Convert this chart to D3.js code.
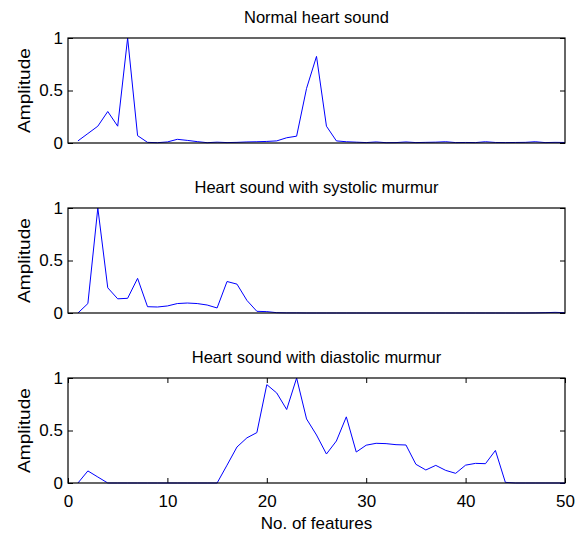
<!DOCTYPE html>
<html>
<head>
<meta charset="utf-8">
<script src="https://cdn.jsdelivr.net/npm/d3@7"></script>
<style>
  body { margin: 0; background: #fff; }
  svg { display: block; font-family: "Liberation Sans", Arial, Helvetica, sans-serif; }
</style>
</head>
<body>
<svg id="chart" width="585" height="536"></svg>
<script>
// feature index (x) for every series
const features = [1, 2, 3, 4, 5, 6, 7, 8, 9, 10, 11, 12, 13, 14, 15, 16, 17, 18, 19, 20,
  21, 22, 23, 24, 25, 26, 27, 28, 29, 30, 31, 32, 33, 34, 35, 36, 37, 38, 39, 40,
  41, 42, 43, 44, 45, 46, 47, 48, 49, 50];

const normalSound = [0.02, 0.09, 0.16, 0.30, 0.16, 1.0, 0.07, 0.006, 0.003, 0.01,
  0.035, 0.025, 0.013, 0.003, 0.008, 0.004, 0.006, 0.01, 0.012, 0.015,
  0.02, 0.05, 0.065, 0.52, 0.825, 0.16, 0.02, 0.012, 0.008, 0.004,
  0.01, 0.003, 0.004, 0.01, 0.004, 0.006, 0.008, 0.012, 0.004, 0.005,
  0.004, 0.012, 0.005, 0.004, 0.005, 0.006, 0.012, 0.004, 0.006, 0.005];

const systolicSound = [0, 0.09, 1.0, 0.24, 0.135, 0.14, 0.33, 0.06, 0.057, 0.067,
  0.09, 0.095, 0.09, 0.076, 0.048, 0.30, 0.275, 0.12, 0.016, 0.013,
  0.003, 0.001, 0.001, 0, 0, 0, 0, 0, 0, 0,
  0, 0, 0, 0, 0, 0, 0, 0, 0, 0,
  0, 0, 0, 0, 0, 0, 0.001, 0.003, 0.006, 0.003];

const diastolicSound = [0, 0.115, 0.057, 0, 0, 0, 0, 0, 0, 0,
  0, 0, 0, 0, 0, 0.17, 0.343, 0.43, 0.48, 0.937,
  0.857, 0.70, 1.0, 0.61, 0.457, 0.276, 0.40, 0.63, 0.295, 0.36,
  0.378, 0.375, 0.365, 0.362, 0.178, 0.124, 0.168, 0.12, 0.092, 0.17,
  0.187, 0.184, 0.31, 0.006, 0, 0, 0, 0, 0, 0];

const titles = ["Normal heart sound", "Heart sound with systolic murmur", "Heart sound with diastolic murmur"];
const yTicks = [0, 0.5, 1];
const xTicks = [0, 10, 20, 30, 40, 50];

const panels = [
  { title: titles[0], values: normalSound, top: 38 },
  { title: titles[1], values: systolicSound, top: 208 },
  { title: titles[2], values: diastolicSound, top: 378 }
];

const svg = d3.select("#chart");
const left = 68, right = 565, plotH = 105;

const x = d3.scaleLinear().domain([0, 50]).range([left, right]);

panels.forEach((p, i) => {
  const y = d3.scaleLinear().domain([0, 1]).range([p.top + plotH, p.top]);
  const g = svg.append("g");
  const last = i === panels.length - 1;

  // y axis, ticks inside the box on both sides
  g.append("g")
    .attr("transform", `translate(${left},0)`)
    .call(d3.axisLeft(y).tickValues(yTicks).tickFormat(d3.format("~g"))
      .tickSizeInner(-5).tickSizeOuter(0).tickPadding(5))
    .call(a => a.select(".domain").remove())
    .call(a => a.selectAll("text").attr("font-size", 17).attr("fill", "#000").attr("font-family", null));

  g.append("g")
    .attr("transform", `translate(${right},0)`)
    .call(d3.axisRight(y).tickValues(yTicks).tickFormat("")
      .tickSizeInner(-5).tickSizeOuter(0))
    .call(a => a.select(".domain").remove());

  if (last) {
    g.append("g")
      .attr("transform", `translate(0,${p.top + plotH})`)
      .call(d3.axisBottom(x).tickValues(xTicks).tickFormat(d3.format("d"))
        .tickSizeInner(-5).tickSizeOuter(0).tickPadding(12))
      .call(a => a.select(".domain").remove())
      .call(a => a.selectAll("text").attr("font-size", 17).attr("fill", "#000").attr("font-family", null));

    g.append("g")
      .attr("transform", `translate(0,${p.top})`)
      .call(d3.axisTop(x).tickValues(xTicks).tickFormat("")
        .tickSizeInner(-5).tickSizeOuter(0))
      .call(a => a.select(".domain").remove());

    svg.append("text")
      .attr("x", (left + right) / 2)
      .attr("y", 529)
      .attr("text-anchor", "middle")
      .attr("font-size", 17)
      .text("No. of features");
  }

  g.selectAll(".tick line").attr("stroke", "#000");

  // the line
  g.append("path")
    .datum(features.map((f, k) => [f, p.values[k]]))
    .attr("fill", "none")
    .attr("stroke", "#0000ff")
    .attr("stroke-width", 1)
    .attr("d", d3.line().x(d => x(d[0])).y(d => y(d[1])));

  // box
  g.append("rect")
    .attr("x", left)
    .attr("y", p.top)
    .attr("width", right - left)
    .attr("height", plotH)
    .attr("fill", "none")
    .attr("stroke", "#000")
    .attr("stroke-width", 1.2);

  g.append("text")
    .attr("x", (left + right) / 2)
    .attr("y", p.top - 15)
    .attr("text-anchor", "middle")
    .attr("font-size", 16.5)
    .text(p.title);

  g.append("text")
    .attr("transform", `translate(29.5,${p.top + plotH / 2}) rotate(-90)`)
    .attr("text-anchor", "middle")
    .attr("font-size", 17)
    .attr("textLength", 85)
    .attr("lengthAdjust", "spacingAndGlyphs")
    .text("Amplitude");
});
</script>
</body>
</html>
